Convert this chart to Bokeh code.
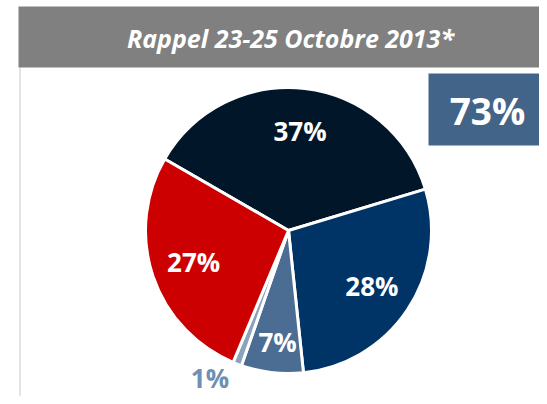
import math
from bokeh.plotting import figure
from bokeh.models import ColumnDataSource
from bokeh.core.properties import value
from bokeh.embed import file_html
from bokeh.resources import INLINE

# ---- data ----
title = "Rappel 23-25 Octobre 2013*"
total_label = "73%"
shares = [37, 28, 7, 1, 27]
share_labels = ["37%", "28%", "7%", "1%", "27%"]
slice_colors = ["#021629", "#003366", "#4c6d93", "#8ba2bb", "#cc0000"]

# ---- layout (pixels) ----
W, H = 539, 396
FONT = "Open Sans"

def X(sx):
    return sx

def Y(sy):
    return H - sy

p = figure(width=W, height=H, x_range=(0, W), y_range=(0, H),
           output_backend="svg", toolbar_location=None, min_border=0)
p.axis.visible = False
p.grid.visible = False
p.outline_line_color = None
p.background_fill_color = "white"
p.border_fill_color = "white"

# left light border of panel
p.segment(x0=[X(19.5)], y0=[Y(67)], x1=[X(19.5)], y1=[0], line_color="#e4e4e4", line_width=2)

# header bar
p.quad(left=[X(18)], right=[W], top=[Y(6)], bottom=[Y(67)], fill_color="#808080", line_color=None)
p.text(x=[X(290)], y=[Y(37)], text=[title], text_color="white", text_font=value(FONT),
       text_font_style="bold italic", text_font_size="25px", text_align="center", text_baseline="middle")

# 73% box
p.quad(left=[X(428)], right=[W], top=[Y(73)], bottom=[Y(145)], fill_color="#426489", line_color=None)
p.text(x=[X(487)], y=[Y(110)], text=[total_label], text_color="white", text_font=value(FONT),
       text_font_style="bold", text_font_size="37px", text_align="center", text_baseline="middle")

# pie
cx, cy, R = X(288), Y(230), 143
start_deg = 150.0
tot = float(sum(shares))
starts, ends, mids = [], [], []
cum = 0.0
for s in shares:
    a1 = start_deg - cum / tot * 360.0
    a0 = start_deg - (cum + s) / tot * 360.0
    starts.append(math.radians(a0))
    ends.append(math.radians(a1))
    mids.append((a0 + a1) / 2.0)
    cum += s

src = ColumnDataSource(dict(start=starts, end=ends, color=slice_colors))
p.wedge(x=cx, y=cy, radius=R, start_angle="start", end_angle="end", fill_color="color",
        line_color="white", line_width=3, source=src)

lx, ly, lc = [], [], []
for s, m, lab in zip(shares, mids, share_labels):
    if s < 3:
        rf, m2, col = 1.17, m - 7, "#6f8fb3"
    elif s < 10:
        rf, m2, col = 0.78, m + 1, "white"
    else:
        rf, m2, col = 0.70, m, "white"
    lx.append(cx + rf * R * math.cos(math.radians(m2)))
    ly.append(cy + rf * R * math.sin(math.radians(m2)))
    lc.append(col)

p.text(x=lx, y=ly, text=share_labels, text_color=lc, text_font=value(FONT),
       text_font_style="bold", text_font_size="26px", text_align="center", text_baseline="middle")

open("out.html", "w").write(file_html(p, INLINE))
